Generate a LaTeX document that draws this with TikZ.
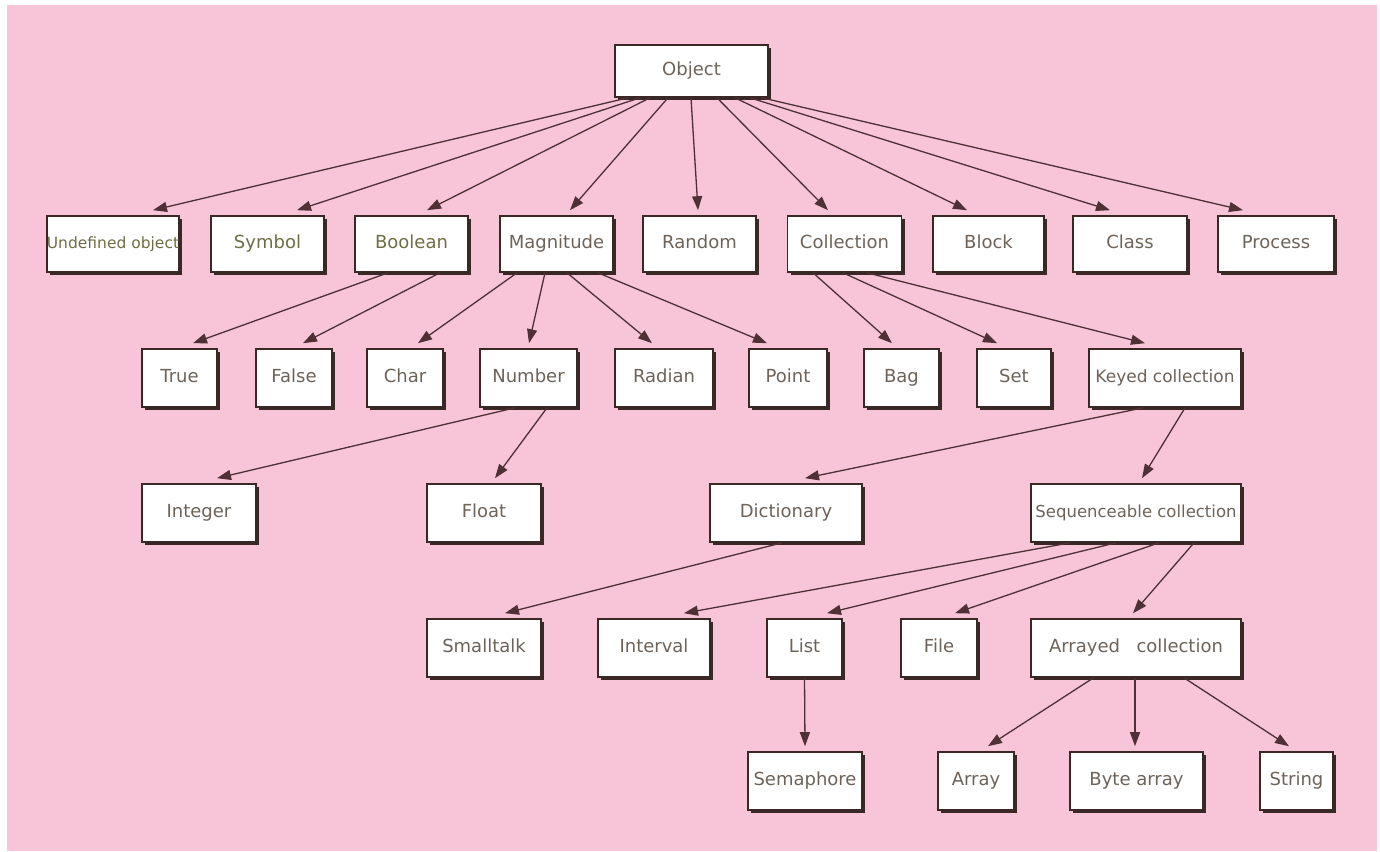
\documentclass[tikz,border=0pt]{standalone}
\usepackage{fontspec}
\setmainfont{DejaVu Sans}
\usetikzlibrary{arrows.meta,shadows}
\definecolor{pinkbg}{HTML}{F8C4D8}
\definecolor{boxline}{HTML}{3A2826}
\definecolor{txt}{HTML}{6E6359}
\definecolor{olivetxt}{HTML}{6E6E45}
\definecolor{edgecol}{HTML}{4E3036}
\tikzset{
  cls/.style={draw=boxline, line width=1.6pt, fill=white, inner sep=0pt,
    text=txt, font=\fontsize{18}{21}\selectfont, text height=13pt, text depth=3.5pt,
    drop shadow={shadow xshift=3pt, shadow yshift=-3pt, fill=boxline, opacity=1}},
  edge/.style={draw=edgecol, line width=1.3pt, -{Triangle[length=14pt,width=10pt]}}
}
\begin{document}
\begin{tikzpicture}[x=1pt,y=-1pt]
\fill[white] (0,0) rectangle (1380,851);
\fill[pinkbg] (7,5) rectangle (1377,851);
\useasboundingbox (0,0) rectangle (1380,851);
% row 0
\node[cls, minimum width=153pt, minimum height=52pt] (obj) at (691.5,71) {Object};
% row 1
\node[cls, minimum width=132pt, minimum height=56pt, text=olivetxt, font=\fontsize{15.5}{18}\selectfont] (undef) at (113,244) {Undefined object};
\node[cls, minimum width=113pt, minimum height=56pt, text=olivetxt] (symbol) at (267.5,244) {Symbol};
\node[cls, minimum width=113pt, minimum height=56pt, text=olivetxt] (boolean) at (411.5,244) {Boolean};
\node[cls, minimum width=113pt, minimum height=56pt] (magnitude) at (556.5,244) {Magnitude};
\node[cls, minimum width=113pt, minimum height=56pt] (random) at (699.5,244) {Random};
\node[cls, minimum width=114pt, minimum height=56pt] (collection) at (844.5,244) {Collection};
\node[cls, minimum width=111pt, minimum height=56pt] (block) at (988.5,244) {Block};
\node[cls, minimum width=114pt, minimum height=56pt] (class) at (1130,244) {Class};
\node[cls, minimum width=116pt, minimum height=56pt] (process) at (1276,244) {Process};
% row 2
\node[cls, minimum width=75pt, minimum height=58pt] (true) at (179.5,378) {True};
\node[cls, minimum width=76pt, minimum height=58pt] (false) at (294,378) {False};
\node[cls, minimum width=76pt, minimum height=58pt] (char) at (405,378) {Char};
\node[cls, minimum width=97pt, minimum height=58pt] (number) at (528.5,378) {Number};
\node[cls, minimum width=98pt, minimum height=58pt] (radian) at (664,378) {Radian};
\node[cls, minimum width=78pt, minimum height=58pt] (point) at (788,378) {Point};
\node[cls, minimum width=75pt, minimum height=58pt] (bag) at (901.5,378) {Bag};
\node[cls, minimum width=74pt, minimum height=58pt] (set) at (1014,378) {Set};
\node[cls, minimum width=152pt, minimum height=58pt, font=\fontsize{17}{20}\selectfont] (keyed) at (1165,378) {Keyed collection};
% row 3
\node[cls, minimum width=114pt, minimum height=58pt] (integer) at (199,513) {Integer};
\node[cls, minimum width=114pt, minimum height=58pt] (float) at (484,513) {Float};
\node[cls, minimum width=152pt, minimum height=58pt] (dictionary) at (786,513) {Dictionary};
\node[cls, minimum width=210pt, minimum height=58pt, font=\fontsize{16.5}{19}\selectfont] (seq) at (1136,513) {Sequenceable collection};
% row 4
\node[cls, minimum width=114pt, minimum height=58pt] (smalltalk) at (484,648) {Smalltalk};
\node[cls, minimum width=112pt, minimum height=58pt] (interval) at (654,648) {Interval};
\node[cls, minimum width=75pt, minimum height=58pt] (list) at (804.5,648) {List};
\node[cls, minimum width=76pt, minimum height=58pt] (file) at (939,648) {File};
\node[cls, minimum width=210pt, minimum height=58pt] (arrayed) at (1136,648) {Arrayed\hspace{0.6em} collection};
% row 5
\node[cls, minimum width=114pt, minimum height=58pt] (semaphore) at (805,781) {Semaphore};
\node[cls, minimum width=76pt, minimum height=58pt] (array) at (976,781) {Array};
\node[cls, minimum width=133pt, minimum height=58pt] (bytearray) at (1136.5,781) {Byte array};
\node[cls, minimum width=73pt, minimum height=58pt] (string) at (1296.5,781) {String};
% edges
\newcommand{\edg}[4]{\draw[edge] ([xshift=#2pt]#1.south) -- ([xshift=#4pt,yshift=5pt]#3.north);}
\edg{obj}{-63.5}{undef}{40}
\edg{obj}{-51.5}{symbol}{29.5}
\edg{obj}{-41.5}{boolean}{15.5}
\edg{obj}{-23.5}{magnitude}{13.5}
\edg{obj}{-0.5}{random}{-1.5}
\edg{obj}{25.5}{collection}{-16.5}
\edg{obj}{43.5}{block}{-21.5}
\edg{obj}{58.5}{class}{-20}
\edg{obj}{70.5}{process}{-33}
\edg{boolean}{-23.5}{true}{13.5}
\edg{boolean}{28.5}{false}{9}
\edg{magnitude}{-39.5}{char}{13}
\edg{magnitude}{-11.5}{number}{0.5}
\edg{magnitude}{10.5}{radian}{-12}
\edg{magnitude}{41.5}{point}{-21}
\edg{collection}{-31.5}{bag}{-9.5}
\edg{collection}{-1.5}{set}{-17}
\edg{collection}{22.5}{keyed}{-20}
\edg{number}{-13.5}{integer}{18}
\edg{number}{18.5}{float}{11}
\edg{keyed}{-22}{dictionary}{19}
\edg{keyed}{20}{seq}{6}
\edg{dictionary}{-4}{smalltalk}{21}
\edg{seq}{-66}{interval}{30}
\edg{seq}{-20}{list}{22.5}
\edg{seq}{23}{file}{16}
\edg{seq}{58}{arrayed}{-3}
\edg{list}{0}{semaphore}{0}
\edg{arrayed}{-42.5}{array}{12}
\edg{arrayed}{-1}{bytearray}{-1.5}
\edg{arrayed}{48}{string}{-7.5}
\end{tikzpicture}
\end{document}
